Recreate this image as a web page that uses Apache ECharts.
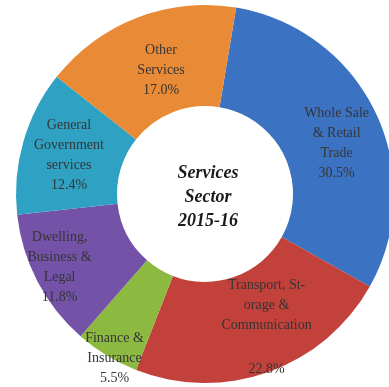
<!DOCTYPE html>
<html>
<head>
<meta charset="utf-8">
<script src="https://cdn.jsdelivr.net/npm/echarts@6/dist/echarts.min.js"></script>
<style>
  html, body { margin: 0; padding: 0; background: #ffffff; }
  #chart { width: 389px; height: 387px; }
</style>
</head>
<body>
<div id="chart"></div>
<script>
// Services sector composition, 2015-16 (share in %)
const categories = [
  'Whole Sale\n& Retail\nTrade',
  'Transport, St-\norage &\nCommunication',
  'Finance &\nInsurance',
  'Dwelling,\nBusiness &\nLegal',
  'General\nGovernment\nservices',
  'Other\nServices'
];
const shares = [30.5, 22.8, 5.5, 11.8, 12.4, 17.0];
const colors = ['#3c72c2', '#c2413b', '#8cb940', '#7352a8', '#2fa1c2', '#e98b36'];
const centerTitle = ['Services', 'Sector', '2015-16'];

// small nudges applied to each slice label after layout
const labelNudges = [[4, 10], [14, 0], [-17, 43], [-20, 8], [0, 0], [7, 8]];

const chart = echarts.init(document.getElementById('chart'), null, { renderer: 'canvas' });

const data = categories.map((name, i) => ({
  name: name,
  value: shares[i],
  itemStyle: { color: colors[i] }
}));

function sliceLabel(p) {
  const lines = p.name.split('\n').map(s => '{n|' + s + '}');
  const pct = '{n|' + p.value.toFixed(1) + '%}';
  // the transport label keeps its share a little apart from the name
  if (p.dataIndex === 1) return lines.join('\n') + '\n{g|}\n' + pct;
  return lines.join('\n') + '\n' + pct;
}

chart.setOption({
  animation: false,
  backgroundColor: '#ffffff',
  graphic: [{
    type: 'text',
    x: 208,
    y: 197,
    style: {
      text: centerTitle.join('\n'),
      font: 'italic bold 18px "Liberation Serif", "DejaVu Serif", serif',
      fill: '#1a1a1a',
      align: 'center',
      verticalAlign: 'middle',
      lineHeight: 24
    },
    z: 10
  }],
  series: [{
    type: 'pie',
    center: [205, 194],
    radius: [88, 189],
    startAngle: 80.5,
    clockwise: true,
    avoidLabelOverlap: false,
    itemStyle: { borderWidth: 0 },
    label: {
      show: true,
      position: 'inside',
      formatter: sliceLabel,
      rich: {
        n: {
          fontFamily: '"Liberation Serif", "DejaVu Serif", serif',
          fontSize: 14,
          lineHeight: 20,
          color: '#353535',
          align: 'center'
        },
        g: { height: 24, lineHeight: 24 }
      }
    },
    labelLine: { show: false },
    labelLayout: function (params) {
      const d = labelNudges[params.dataIndex] || [0, 0];
      return { dx: d[0], dy: d[1] };
    },
    data: data
  }]
});
</script>
</body>
</html>
